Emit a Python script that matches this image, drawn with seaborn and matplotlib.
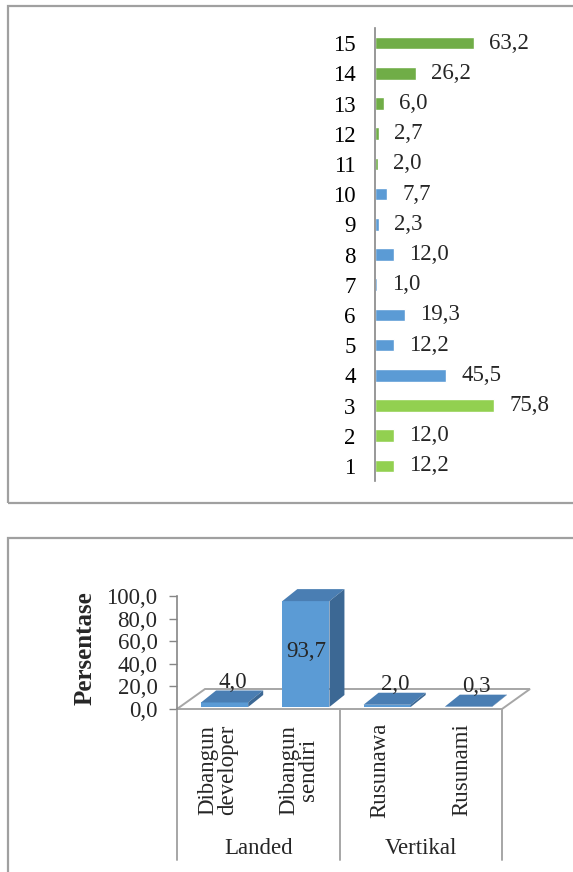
import matplotlib
matplotlib.use("Agg")
import matplotlib.pyplot as plt
import seaborn as sns
import pandas as pd
from matplotlib.patches import Rectangle, Polygon
from matplotlib.ticker import FuncFormatter

# ---------------- data ----------------
item_labels = [str(i) for i in range(1, 16)]
item_values = [12.2, 12.0, 75.8, 45.5, 12.2, 19.3, 1.0, 12.0, 2.3, 7.7, 2.0, 2.7, 6.0, 26.2, 63.2]
item_group = ["A", "A", "A", "B", "B", "B", "B", "B", "B", "B", "C", "C", "C", "C", "C"]
group_colors = {"A": "#92D050", "B": "#5B9BD5", "C": "#70AD47"}

house_types = ["Dibangun\ndeveloper", "Dibangun\nsendiri", "Rusunawa", "Rusunami"]
house_groups = ["Landed", "Landed", "Vertikal", "Vertikal"]
house_pct = [4.0, 93.7, 2.0, 0.3]
y_ticks = [0, 20, 40, 60, 80, 100]


def fmt(v):
    return f"{v:.1f}".replace(".", ",")


W, H = 573, 872
DPI = 100
sns.set_theme(style="white")
plt.rcParams["font.family"] = ["Liberation Serif", "DejaVu Serif"]
FS = 16.5

fig = plt.figure(figsize=(W / DPI, H / DPI), dpi=DPI)
fig.patch.set_facecolor("white")


def rect(x0, y0, x1, y1):
    return [x0 / W, 1 - y1 / H, (x1 - x0) / W, (y1 - y0) / H]


border = "#A0A0A0"
fig.patches.append(Rectangle((8 / W, 1 - 503 / H), 700 / W, (503 - 6) / H,
                             transform=fig.transFigure, fill=False,
                             edgecolor=border, linewidth=1.6, clip_on=False))
fig.patches.append(Rectangle((8 / W, 1 - 1000 / H), 700 / W, (1000 - 538) / H,
                             transform=fig.transFigure, fill=False,
                             edgecolor=border, linewidth=1.6, clip_on=False))

# ---------------- top chart ----------------
ax1 = fig.add_axes(rect(375, 28, 375 + 125.6, 481))
df1 = pd.DataFrame({"item": item_labels, "value": item_values, "grp": item_group})
order = item_labels[::-1]
sns.barplot(data=df1, y="item", x="value", hue="grp", order=order,
            palette=group_colors, dodge=False, width=0.42, legend=False,
            ax=ax1, orient="h", saturation=1)
ax1.set_xlim(0, 80)
ax1.set_xlabel("")
ax1.set_ylabel("")
ax1.set_xticks([])
for s in ["top", "right", "bottom"]:
    ax1.spines[s].set_visible(False)
ax1.spines["left"].set_color("#868686")
ax1.spines["left"].set_linewidth(1.2)
ax1.tick_params(axis="y", length=0, pad=14, labelsize=FS, colors="black")
vals_by_item = dict(zip(item_labels, item_values))
for i, it in enumerate(order):
    v = vals_by_item[it]
    ax1.annotate(fmt(v), xy=(v, i), xytext=(15, 0), textcoords="offset pixels",
                 ha="left", va="center", fontsize=FS, clip_on=False,
                 annotation_clip=False)

# ---------------- bottom chart (pseudo 3D) ----------------
y0px, y100px = 709, 596
ax2 = fig.add_axes(rect(177, y100px, 502, y0px))
pxx = (502 - 177) / 4.0          # pixels per category
pxy = (y0px - y100px) / 100.0    # pixels per unit
df2 = pd.DataFrame({"type": house_types, "pct": house_pct, "grp": house_groups})
sns.barplot(data=df2, x="type", y="pct", order=house_types, color="#5B9BD5",
            width=0.58, ax=ax2, zorder=3, saturation=1)
ax2.set_xlim(-0.5, 3.5)
ax2.set_ylim(0, 100)
ax2.set_xlabel("")
ax2.set_ylabel("")
ax2.set_xticks([])
ax2.patch.set_alpha(0)
for s in ["top", "right", "bottom"]:
    ax2.spines[s].set_visible(False)
ax2.spines["left"].set_color("#868686")
ax2.spines["left"].set_linewidth(1.2)
ax2.set_yticks(y_ticks)
ax2.yaxis.set_major_formatter(FuncFormatter(lambda v, p: fmt(v)))
ax2.tick_params(axis="y", length=6, width=1.0, color="#868686", pad=8,
                labelsize=FS, left=True)

# floor
fdx, fdy = 28 / pxx, 20 / pxy
floor = Polygon([(-0.5, 0), (3.5, 0), (3.5 + fdx, fdy), (-0.5 + fdx, fdy)],
                closed=True, facecolor="white", edgecolor="#A6A6A6",
                linewidth=1.4, zorder=1, clip_on=False)
ax2.add_patch(floor)

# 3D faces from bar patches
ddx, ddy = 15 / pxx, 12 / pxy
shift_x, shift_y = 7 / pxx, 2 / pxy
for p, v in zip(ax2.patches[:len(house_pct)], house_pct):
    p.set_x(p.get_x() + shift_x)
    p.set_y(shift_y)
    p.set_edgecolor("none")
    p.set_clip_on(False)
    x0, w, b, h = p.get_x(), p.get_width(), p.get_y(), p.get_height()
    t = b + h
    top = Polygon([(x0, t), (x0 + w, t), (x0 + w + ddx, t + ddy), (x0 + ddx, t + ddy)],
                  closed=True, facecolor="#4A7EB3", edgecolor="none", zorder=3,
                  clip_on=False)
    side = Polygon([(x0 + w, b), (x0 + w + ddx, b + ddy), (x0 + w + ddx, t + ddy),
                    (x0 + w, t)], closed=True, facecolor="#3C6894",
                   edgecolor="none", zorder=3, clip_on=False)
    ax2.add_patch(top)
    ax2.add_patch(side)
    cx = x0 + w / 2 + 8 / pxx
    ly = v + 22 / pxy if v < 50 else v * 0.54
    lx = cx if v < 50 else x0 + w / 2
    ax2.text(lx, ly, fmt(v), ha="center", va="center", fontsize=FS, zorder=5,
             clip_on=False)

# separators and category labels
bottom_data = -(860 - y0px) / pxy
for xb in [-0.5, 1.5, 3.5]:
    ax2.plot([xb, xb], [0, bottom_data], color="#A6A6A6", linewidth=1.4,
             clip_on=False, zorder=1)
lab_y = -(770 - y0px) / pxy
for i, t in enumerate(house_types):
    ax2.text(i, lab_y, t, rotation=90, ha="center", va="center",
             multialignment="center", fontsize=FS, linespacing=0.95,
             clip_on=False)
grp_y = -(848 - y0px) / pxy
seen = {}
for i, g in enumerate(house_groups):
    seen.setdefault(g, []).append(i)
for g, idx in seen.items():
    ax2.text(sum(idx) / len(idx), grp_y, g, ha="center", va="center",
             fontsize=FS, clip_on=False)

fig.text(85 / W, 1 - 648 / H, "Persentase", rotation=90, ha="center",
         va="center", fontsize=18, fontweight="bold")

fig.savefig("out.png", dpi=DPI)
